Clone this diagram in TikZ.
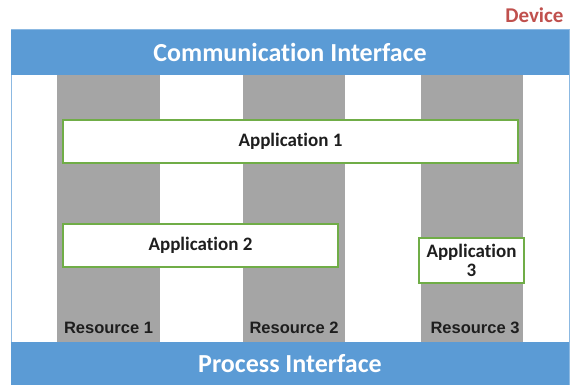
\documentclass[tikz,border=0pt]{standalone}
\usepackage{fontspec}
\setmainfont[Ligatures=NoCommon]{Carlito}
\newfontfamily\arialfont{Liberation Sans}
\definecolor{barblue}{HTML}{5B9BD5}
\definecolor{colgray}{HTML}{A5A5A5}
\definecolor{appgreen}{HTML}{70AD47}
\definecolor{devred}{HTML}{C0504D}
\definecolor{inktext}{HTML}{1E1E1E}
\begin{document}
\begin{tikzpicture}[x=1pt,y=-1pt,
  bar/.style={fill=barblue,draw=none},
  bartext/.style={text=white,font=\fontsize{26}{30}\selectfont\bfseries},
  column/.style={fill=colgray,draw=none},
  restext/.style={text=inktext,font=\arialfont\fontsize{16.5}{18}\selectfont\bfseries,anchor=base},
  app/.style={draw=appgreen,line width=1.6pt,fill=white},
  apptext/.style={text=inktext,font=\fontsize{19}{22}\selectfont\bfseries,align=center}]
\useasboundingbox (0,0) rectangle (571,387);
% device frame
\fill[white] (11,30) rectangle (569,385);
\draw[barblue!70,line width=1pt] (11,30) rectangle (569,385);
% resource columns
\fill[column] (57,75) rectangle (160,342);
\fill[column] (243,75) rectangle (345,342);
\fill[column] (421,75) rectangle (523,342);
\node[restext] (r1) at (108.5,334) {Resource 1};
\node[restext] (r2) at (294,334) {Resource 2};
\node[restext] (r3) at (475,334) {Resource 3};
% interface bars
\fill[bar] (11,30) rectangle (569,75);
\node[bartext] (ci) at (290,52.5) {Communication Interface};
\fill[bar] (11,342) rectangle (569,385);
\node[bartext] (pi) at (290,363.5) {Process Interface};
% applications
\draw[app] (63,120) rectangle (518,163);
\node[apptext] (a1) at (290.5,141.5) {Application 1};
\draw[app] (63,224) rectangle (338,267);
\node[apptext] (a2) at (200.5,245) {Application 2};
\draw[app] (419,238) rectangle (524,283);
\node[apptext] (a3) at (471.5,260.5) {Application\\[-3pt]3};
% device label
\node[font=\fontsize{21}{24}\selectfont\bfseries,text=devred,anchor=east] (dev) at (567,15) {Device};
\end{tikzpicture}
\end{document}
